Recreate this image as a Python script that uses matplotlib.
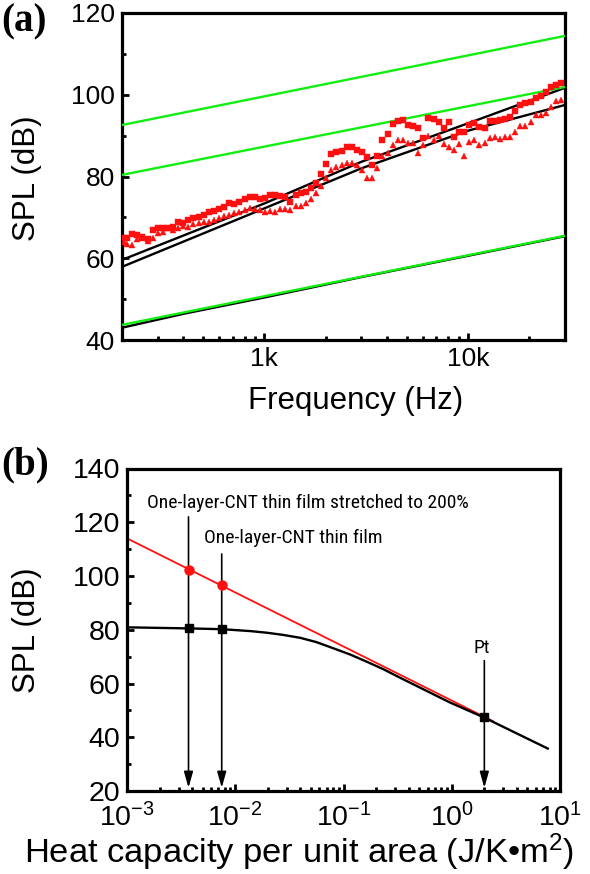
import matplotlib
matplotlib.use("Agg")
import matplotlib.pyplot as plt
from matplotlib import font_manager
from matplotlib.font_manager import FontProperties
from matplotlib.ticker import FixedLocator, FixedFormatter, NullFormatter, LogLocator, MultipleLocator

# ---------------- data: panel (a) ----------------
freq = [205, 212, 224, 238, 252, 267, 283, 300, 317, 336, 356, 378, 400, 424, 449, 476,
        504, 534, 566, 599, 635, 673, 713, 755, 800, 848, 898, 951, 1008, 1068, 1131, 1199,
        1270, 1345, 1425, 1510, 1600, 1695, 1796, 1903, 2016, 2136, 2263, 2397, 2540, 2691,
        2851, 3020, 3200, 3390, 3592, 3805, 4032, 4271, 4525, 4795, 5080, 5382, 5702, 6041,
        6400, 6781, 7184, 7611, 8063, 8543, 9051, 9589, 10159, 10763, 11404, 12082, 12800,
        13561, 14368, 15222, 16127, 17086, 18102, 19178, 20319, 21527, 22807, 24163, 25600,
        27122, 28735]
spl_square = [65.0, 65.0, 66.0, 65.8, 65.2, 64.7, 66.9, 67.4, 67.5, 67.3, 67.6, 68.9, 68.6,
              69.3, 69.9, 70.2, 70.7, 71.2, 71.5, 72.1, 72.6, 73.5, 73.3, 73.8, 74.6, 75.0,
              74.9, 74.6, 74.8, 75.4, 75.4, 75.3, 75.1, 73.8, 75.5, 76.0, 76.2, 77.2, 78.4,
              80.5, 83.0, 85.5, 86.0, 86.3, 87.1, 87.1, 86.6, 86.1, 84.8, 82.8, 85.0, 89.0,
              90.5, 92.8, 93.6, 93.8, 92.6, 92.4, 91.9, 89.4, 94.2, 94.0, 93.4, 91.8, 93.4,
              89.7, 91.0, 91.0, 92.6, 93.2, 92.2, 91.8, 93.6, 93.7, 93.8, 94.0, 94.6, 96.0,
              97.5, 97.9, 98.3, 99.3, 99.7, 100.6, 101.8, 102.3, 102.8]
spl_triangle = [64.0, 63.5, 63.3, 64.8, 64.9, 64.3, 65.0, 66.1, 66.5, 67.4, 67.0, 67.3, 68.0,
                67.7, 68.3, 68.7, 68.9, 68.9, 69.4, 69.8, 70.3, 70.7, 71.0, 71.2, 71.8, 72.2,
                72.1, 71.9, 71.4, 71.6, 71.2, 72.0, 72.1, 71.9, 72.8, 72.9, 73.5, 74.5, 76.0,
                77.6, 79.6, 81.6, 82.4, 82.8, 83.2, 83.2, 82.7, 81.6, 79.6, 79.6, 82.0, 85.0,
                85.8, 87.6, 88.9, 89.0, 88.1, 88.1, 85.7, 87.7, 89.9, 88.9, 89.9, 88.0, 87.1,
                86.5, 88.0, 85.0, 88.5, 88.9, 87.7, 88.3, 89.3, 89.6, 89.1, 89.6, 89.6, 90.8,
                92.4, 92.4, 93.4, 95.0, 95.0, 95.6, 96.9, 98.5, 98.7]

green_f = [200, 30000]
green_top = [92.6, 114.4]
green_mid = [80.4, 101.9]
green_low = [43.7, 65.5]

black_f = [200, 1000, 3000, 10000, 30000]
black_upper = [59.6, 73.4, 83.6, 93.0, 101.7]
black_lower = [57.9, 72.2, 82.0, 91.2, 97.5]
black_low_f = [200, 400, 1000, 3000, 10000, 30000]
black_low = [43.0, 46.4, 50.4, 55.4, 60.6, 65.4]

a_xticks = [1000, 10000]
a_xticklabels = ["1k", "10k"]
a_xminor = [200, 300, 400, 500, 600, 700, 800, 900, 2000, 3000, 4000, 5000, 6000, 7000,
            8000, 9000, 20000, 30000]

# ---------------- data: panel (b) ----------------
red_line_c = [0.001, 2.4]
red_line_spl = [114.0, 46.0]
curve_c = [0.001, 0.00372, 0.00759, 0.0138, 0.0195, 0.0275, 0.0398, 0.0562, 0.0794, 0.115,
           0.162, 0.234, 0.331, 0.468, 0.676, 0.955, 2.0, 7.7]
curve_spl = [80.9, 80.5, 80.2, 79.5, 78.9, 78.1, 77.0, 75.4, 73.2, 70.8, 68.2, 65.3, 62.2,
             59.2, 56.0, 53.0, 47.3, 35.8]
cnt_c = [0.0037, 0.0075]
cnt_red_spl = [102.3, 96.6]
sq_c = [0.0037, 0.0075, 2.0]
sq_spl = [80.5, 80.2, 47.5]
arrow_c = [0.0037, 0.0075, 2.0]
arrow_top = [122.0, 108.2, 68.5]
arrow_tip = 21.2
labels_b = ["One-layer-CNT thin film stretched to 200%", "One-layer-CNT thin film", "Pt"]

# ---------------- fonts ----------------
names = {f.name for f in font_manager.fontManager.ttflist}
SANS = "Liberation Sans" if "Liberation Sans" in names else "DejaVu Sans"
SERIF = "Liberation Serif" if "Liberation Serif" in names else "DejaVu Serif"


def find_narrow():
    prefs = ["liberation sans narrow", "arial narrow", "roboto condensed", "noto sans",
             "open sans", "lato", "inter", "dejavu sans"]
    best = None
    for f in font_manager.fontManager.ttflist:
        n = f.name.lower()
        fn = f.fname.lower().replace("-", "").replace("_", "")
        narrowish = ("narrow" in n or "condensed" in n or "narrow" in fn
                     or ("condensed" in fn and "semicondensed" not in fn
                         and "extracondensed" not in fn and "ultracondensed" not in fn)
                     or f.stretch == "condensed")
        if not narrowish or "cjk" in n or "mono" in n or "serif" in n:
            continue
        if f.style != "normal" or f.weight not in (400, "normal", "regular"):
            continue
        rank = next((i for i, p in enumerate(prefs) if n.startswith(p)), len(prefs))
        if best is None or rank < best[0]:
            best = (rank, f.fname)
    return best[1] if best else None


narrow_path = find_narrow()
if narrow_path:
    note_fp = FontProperties(fname=narrow_path, size=14.0)
else:
    note_fp = FontProperties(family=SANS, size=12.0)

plt.rcParams["font.family"] = [SANS, "DejaVu Sans"]
plt.rcParams["mathtext.fontset"] = "custom"
plt.rcParams["mathtext.rm"] = SANS
plt.rcParams["mathtext.it"] = SANS
plt.rcParams["mathtext.default"] = "regular"

W, H = 590, 874
fig = plt.figure(figsize=(W / 100, H / 100), dpi=100)


def box(l, t, r, b):
    return [l / W, 1 - b / H, (r - l) / W, (b - t) / H]


ax1 = fig.add_axes(box(122, 13, 565, 340))
ax2 = fig.add_axes(box(127, 468.5, 560, 791))

GREEN = "#11ee11"
RED = "#ff1010"

# panel (a)
ax1.plot(black_f, black_upper, color="k", lw=1.7, zorder=2)
ax1.plot(black_f, black_lower, color="k", lw=1.7, zorder=2)
ax1.plot(black_low_f, black_low, color="k", lw=1.7, zorder=2)
for g in (green_top, green_mid, green_low):
    ax1.plot(green_f, g, color=GREEN, lw=1.7, zorder=3)
ax1.plot(freq, spl_square, ls="none", marker="s", ms=3.9, color=RED, mec=RED, mew=0.3, zorder=4)
ax1.plot(freq, spl_triangle, ls="none", marker="^", ms=4.6, color=RED, mec=RED, mew=0.3, zorder=4)
ax1.set_xscale("log")
ax1.set_xlim(200, 30000)
ax1.set_ylim(40, 120)
ax1.xaxis.set_major_locator(FixedLocator(a_xticks))
ax1.xaxis.set_major_formatter(FixedFormatter(a_xticklabels))
ax1.xaxis.set_minor_locator(FixedLocator(a_xminor))
ax1.xaxis.set_minor_formatter(NullFormatter())
ax1.yaxis.set_major_locator(MultipleLocator(20))
ax1.yaxis.set_minor_locator(MultipleLocator(10))

# panel (b)
ax2.plot(red_line_c, red_line_spl, color=RED, lw=1.3, zorder=2)
ax2.plot(curve_c, curve_spl, color="k", lw=1.7, zorder=3)
for c, top in zip(arrow_c, arrow_top):
    ax2.annotate("", xy=(c, arrow_tip), xytext=(c, top),
                 arrowprops=dict(arrowstyle="-|>,head_length=0.6,head_width=0.17",
                                 mutation_scale=16, lw=1.2, color="k",
                                 shrinkA=0, shrinkB=0), zorder=4)
ax2.plot(cnt_c, cnt_red_spl, ls="none", marker="o", ms=6.5, color=RED, mec=RED, zorder=5)
ax2.plot(sq_c, sq_spl, ls="none", marker="s", ms=5.5, color="k", zorder=5)
ax2.set_xscale("log")
ax2.set_xlim(1e-3, 1e1)
ax2.set_ylim(20, 140)
ax2.xaxis.set_major_locator(FixedLocator([1e-3, 1e-2, 1e-1, 1e0, 1e1]))
ax2.xaxis.set_major_formatter(FixedFormatter(["$10^{-3}$", "$10^{-2}$", "$10^{-1}$",
                                              "$10^{0}$", "$10^{1}$"]))
ax2.xaxis.set_minor_locator(LogLocator(base=10, subs=range(2, 10), numticks=20))
ax2.xaxis.set_minor_formatter(NullFormatter())
ax2.yaxis.set_major_locator(MultipleLocator(20))
ax2.yaxis.set_minor_locator(MultipleLocator(10))

ax2.text(0.00153, 125.2, labels_b[0], fontproperties=note_fp, ha="left", va="baseline")
ax2.text(0.00514, 112.2, labels_b[1], fontproperties=note_fp, ha="left", va="baseline")
ax2.text(1.9, 71.2, labels_b[2], fontproperties=note_fp, ha="center", va="baseline")

for ax in (ax1, ax2):
    for s in ax.spines.values():
        s.set_linewidth(2.3)
    ax.tick_params(which="both", direction="in", top=False, right=False,
                   width=2.0, pad=5)
    ax.tick_params(which="major", length=5)
    ax.tick_params(which="minor", length=3)
ax1.tick_params(labelsize=19)
ax2.tick_params(labelsize=20.5)
ax2.tick_params(axis="x", pad=9)

# axis labels
fig.text(27 / W, 1 - 178 / H, "SPL (dB)", rotation=90, fontsize=22.5, ha="center", va="center")
fig.text(356 / W, 1 - 409 / H, "Frequency (Hz)", fontsize=22.5, ha="center", va="baseline")
fig.text(27 / W, 1 - 630 / H, "SPL (dB)", rotation=90, fontsize=22.5, ha="center", va="center")
fig.text(299 / W, 1 - 863 / H, "Heat capacity per unit area (J/K\u2022m$^{2}$)", fontsize=24.8,
         ha="center", va="baseline")

fig.text(1 / W, 1 - 3 / H, "(a)", family=[SERIF], fontweight="bold", fontsize=28,
         ha="left", va="top")
fig.text(1 / W, 1 - 446 / H, "(b)", family=[SERIF], fontweight="bold", fontsize=28,
         ha="left", va="top")

fig.savefig("out.png", dpi=100)
